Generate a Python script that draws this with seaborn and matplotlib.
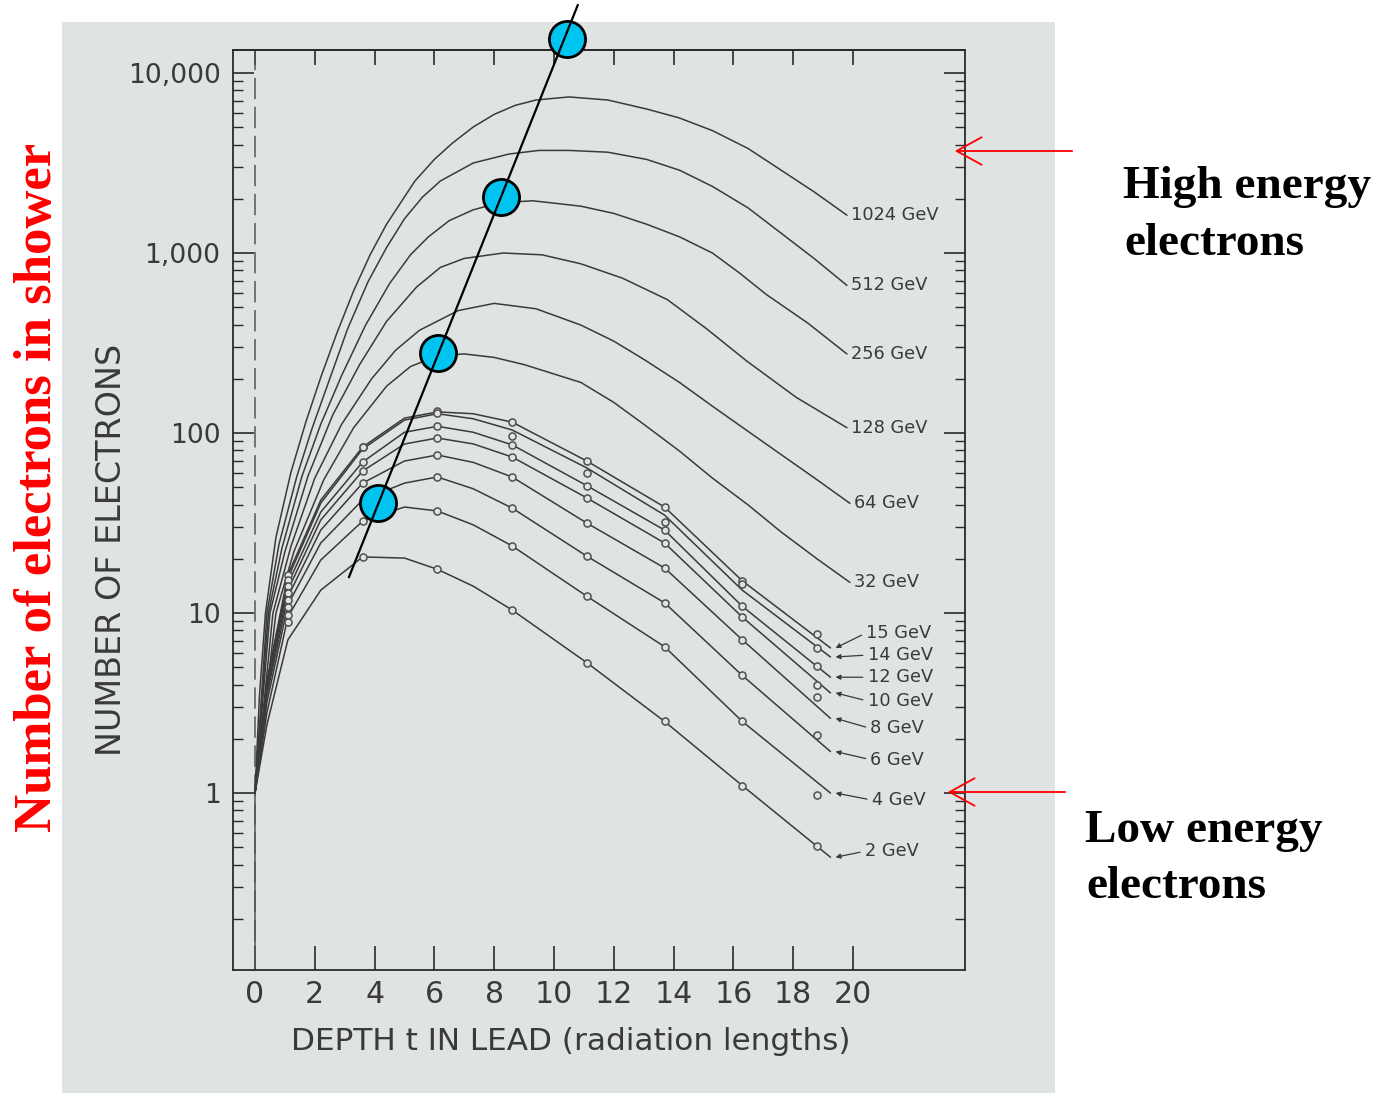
import matplotlib
matplotlib.use("Agg")
import matplotlib.pyplot as plt
import matplotlib.ticker as mticker
from matplotlib import font_manager
from matplotlib.font_manager import FontProperties
from matplotlib.patches import Rectangle, FancyArrowPatch, ArrowStyle
import numpy as np
import pandas as pd
import seaborn as sns

# ---------------- data ----------------
# high-energy shower curves: depth t (radiation lengths) and number of electrons
t_1024 = [0, 0.15, 0.35, 0.7, 1.2, 1.7, 2.2, 2.75, 3.3, 3.85, 4.4, 5.35, 6.0, 6.6, 7.3,
          8.0, 8.7, 9.4, 10.5, 11.8, 13.1, 14.2, 15.3, 16.5, 17.6, 18.7, 19.8]
n_1024 = [1, 3.5, 10, 26.3, 60.3, 115, 204, 363, 617, 977, 1445, 2512, 3311, 4074, 5012,
          5888, 6607, 7079, 7362, 7079, 6310, 5623, 4786, 3802, 2884, 2188, 1622]
t_512 = [0, 0.4, 0.8, 1.4, 1.9, 2.5, 3.1, 3.78, 4.4, 5.0, 5.6, 6.2, 7.3, 8.5, 9.5, 10.5,
         11.8, 13.1, 14.2, 15.3, 16.5, 17.6, 18.7, 19.8]
n_512 = [1, 10, 24, 57.5, 105, 200, 380, 692, 1072, 1549, 2042, 2512, 3162, 3548, 3715,
         3715, 3631, 3311, 2884, 2344, 1778, 1288, 933, 661]
t_256 = [0, 0.45, 0.9, 1.57, 2.2, 2.9, 3.7, 4.5, 5.2, 5.8, 6.5, 7.3, 8.2, 9.3, 10.9, 12.0,
         13.1, 14.2, 15.3, 16.2, 17.1, 18.5, 19.8]
n_256 = [1, 10, 22.9, 57.5, 112, 209, 398, 676, 977, 1230, 1514, 1738, 1905, 1950, 1820,
         1660, 1445, 1230, 1000, 776, 589, 407, 275]
t_128 = [0, 0.5, 1.0, 1.77, 2.6, 3.5, 4.4, 5.4, 6.2, 7.0, 8.3, 9.6, 10.9, 12.3, 13.8, 15.1,
         16.45, 18.1, 19.8]
n_128 = [1, 10, 21.9, 57.5, 126, 240, 417, 646, 832, 933, 1000, 977, 871, 724, 550, 380,
         251, 158, 107]
t_64 = [0, 0.6, 1.2, 2.0, 2.9, 3.9, 4.7, 5.5, 6.8, 8.0, 9.4, 10.9, 12.0, 13.0, 14.2, 15.3,
        16.5, 17.6, 18.8, 19.9]
n_64 = [1, 10, 23.4, 56.2, 112, 200, 288, 372, 479, 525, 490, 398, 324, 257, 191, 141,
        102, 75.9, 55, 40.7]
t_32 = [0, 0.7, 1.3, 2.3, 3.3, 4.4, 5.2, 6.1, 7.0, 8.0, 9.0, 10.9, 12.0, 13.0, 14.2, 15.3,
        16.5, 17.6, 18.8, 19.9]
n_32 = [1, 10, 21.9, 55, 107, 182, 234, 269, 275, 263, 240, 191, 148, 112, 79.4, 56.2,
        39.8, 28.2, 20, 14.8]

# low-energy shower curves (common depth grid)
t_low = [0, 0.4, 1.1, 2.2, 3.6, 5.0, 6.1, 7.3, 8.6, 11.1, 13.7, 16.3, 19.25]
n_15 = [1, 4.2, 16.3, 42.4, 83.6, 121, 131, 128, 115, 69.9, 38.8, 15.1, 6.4]
n_14 = [1, 4.1, 15.6, 40.8, 81.5, 118, 128, 120, 104, 64, 35, 13.4, 5.7]
n_12 = [1, 3.9, 14.5, 36.4, 69, 101, 109, 101, 86, 51, 28.9, 10.9, 4.4]
n_10 = [1, 3.7, 13.4, 32.9, 61.5, 86.9, 93.8, 87, 73.6, 43.6, 24.5, 9.5, 3.6]
n_8 = [1, 3.5, 12.3, 28.9, 52.7, 69.9, 75.5, 68.7, 57, 31.6, 17.8, 7.1, 2.6]
n_6 = [1, 3.2, 11.1, 24.5, 42.5, 52.7, 57, 49, 38.3, 20.7, 11.4, 4.5, 1.7]
n_4 = [1, 2.8, 9.5, 19.7, 32.4, 38.8, 36.9, 30.9, 23.6, 12.4, 6.5, 2.5, 1.0]
n_2 = [1, 2.4, 7.1, 13.4, 20.5, 20.2, 17.5, 14.1, 10.4, 5.3, 2.5, 1.1, 0.44]

# measured points on the low-energy curves
t_pts = [1.1, 3.6, 6.1, 8.6, 11.1, 13.7, 16.3, 18.8]
p_15 = [16.3, 83.6, 132, 115, 69.9, 38.8, 15.1, 7.6]
p_14 = [15.2, 83.6, 129, 96.2, 60, 32.1, 14.5, 6.4]
p_12 = [14.1, 69, 109, 86, 50.8, 28.9, 10.9, 5.1]
p_10 = [12.9, 61.5, 93.8, 73.6, 43.6, 24.5, 9.5, 4.0]
p_8 = [11.8, 52.7, 75.5, 57, 31.6, 17.8, 7.1, 3.4]
p_6 = [10.8, np.nan, 57, 38.3, 20.7, 11.4, 4.5, 2.1]
p_4 = [9.7, 32.4, 36.9, 23.6, 12.4, 6.5, 2.5, 0.97]
p_2 = [8.9, 20.5, 17.5, 10.4, 5.3, 2.5, 1.1, 0.51]

high_labels = ["1024 GeV", "512 GeV", "256 GeV", "128 GeV", "64 GeV", "32 GeV"]
low_labels = ["15 GeV", "14 GeV", "12 GeV", "10 GeV", "8 GeV", "6 GeV", "4 GeV", "2 GeV"]

# shower-maximum markers (blue circles) and the line through them
max_t = [10.43, 8.23, 6.12, 4.11]
max_n = [15460, 2046, 278, 40.8]
maxline_t = [3.14, 10.8]
maxline_n = [15.8, 23900]

x_ticks = [0, 2, 4, 6, 8, 10, 12, 14, 16, 18, 20]
x_ticklabels = ["0", "2", "4", "6", "8", "10", "12", "14", "16", "18", "20"]
y_ticks = [1, 10, 100, 1000, 10000]
y_ticklabels = ["1", "10", "100", "1,000", "10,000"]

# ---------------- styling ----------------
W, H = 1393, 1093
sns.set_style("ticks")
avail = {f.name for f in font_manager.fontManager.ttflist}
NARROW = "Liberation Sans Narrow" if "Liberation Sans Narrow" in avail else "DejaVu Sans"
narrow_ok = NARROW != "DejaVu Sans"
plt.rcParams["font.family"] = [NARROW, "DejaVu Sans"]
INK = "#3a3a3a"
BG = "#dfe3e2"
k = 1.0 if narrow_ok else 0.8

fig = plt.figure(figsize=(W / 100, H / 100), dpi=100)
fig.patch.set_facecolor("white")
fig.patches.append(Rectangle((62 / W, 0), (1055 - 62) / W, (H - 22) / H,
                             transform=fig.transFigure, facecolor=BG,
                             edgecolor="none", zorder=-10))

ax = fig.add_axes([233 / W, (H - 970) / H, (965 - 233) / W, (970 - 50) / H])
ax.set_facecolor("none")
ax.set_yscale("log")
ax.set_xlim(-0.736, 23.75)
ax.set_ylim(0.104, 13420)

# curves
high_ts = [t_1024, t_512, t_256, t_128, t_64, t_32]
high_ns = [n_1024, n_512, n_256, n_128, n_64, n_32]
low_ns = [n_15, n_14, n_12, n_10, n_8, n_6, n_4, n_2]
rows = []
for lab, t, n in zip(high_labels, high_ts, high_ns):
    rows.append(pd.DataFrame({"t": t, "N": n, "E": lab}))
for lab, n in zip(low_labels, low_ns):
    rows.append(pd.DataFrame({"t": t_low, "N": n, "E": lab}))
df_lines = pd.concat(rows, ignore_index=True)
sns.lineplot(data=df_lines, x="t", y="N", units="E", estimator=None, sort=False,
             color=INK, linewidth=1.1, ax=ax, legend=False)

# measured points
prow = []
for lab, p in zip(low_labels, [p_15, p_14, p_12, p_10, p_8, p_6, p_4, p_2]):
    prow.append(pd.DataFrame({"t": t_pts, "N": p, "E": lab}))
df_pts = pd.concat(prow, ignore_index=True).dropna()
sns.scatterplot(data=df_pts, x="t", y="N", color=BG, edgecolor="#505050",
                linewidth=1.1, s=26, ax=ax, legend=False, zorder=3)

# dashed line at t = 0
ax.axvline(0, color="#555555", lw=1.1, dashes=(14, 5), zorder=1)
ax.vlines(0, ax.get_ylim()[0], 1, color="#555555", lw=1.1, zorder=1)

# curve labels
for lab, t, n in zip(high_labels, high_ts, high_ns):
    ax.annotate(lab, xy=(t[-1], n[-1]), xytext=(3, 0), textcoords="offset points",
                ha="left", va="center", fontsize=16 * k, color=INK)
low_dx = [22, 23, 23, 23, 25, 25, 26, 21]
low_dy = [10.8, 1.4, 0, -5.8, -7.2, -5.8, -5.0, 4.3]
for lab, n, dx, dy in zip(low_labels, low_ns, low_dx, low_dy):
    ax.annotate(lab, xy=(t_low[-1] + 0.17, n[-1]), xytext=(dx, dy),
                textcoords="offset points", ha="left", va="center",
                fontsize=16 * k, color=INK,
                arrowprops=dict(arrowstyle="-|>", color=INK, lw=0.9,
                                mutation_scale=7, shrinkA=1, shrinkB=0,
                                relpos=(0, 0.5)))

# shower maxima
sns.scatterplot(x=max_t, y=max_n, s=26 ** 2, color="#00c4f0", edgecolor="black",
                linewidth=2.0, ax=ax, legend=False, zorder=6, clip_on=False)
ax.plot(maxline_t, maxline_n, color="black", lw=1.6, zorder=7, clip_on=False)

# axes styling
for sp in ax.spines.values():
    sp.set_visible(True)
    sp.set_color("#2a2a2a")
    sp.set_linewidth(1.3)
ax.set_xticks(x_ticks)
ax.set_xticklabels(x_ticklabels)
ax.set_yticks(y_ticks)
ax.set_yticklabels(y_ticklabels)
ax.yaxis.set_minor_locator(mticker.LogLocator(base=10, subs=np.arange(2, 10)))
ax.yaxis.set_minor_formatter(mticker.NullFormatter())
ax.tick_params(axis="x", which="major", direction="in", length=17, width=1.2,
               color="#2a2a2a", top=False, bottom=True, pad=7,
               labelsize=27 * k, labelcolor=INK)
ax.tick_params(axis="y", which="major", direction="in", length=15, width=1.2,
               color="#2a2a2a", left=True, right=True, pad=9,
               labelsize=24 * k, labelcolor=INK)
ax.tick_params(axis="y", which="minor", direction="in", length=7, width=1.0,
               color="#2a2a2a", left=True, right=True)
sec = ax.secondary_xaxis("top")
sec.set_xticks(x_ticks)
sec.tick_params(direction="in", length=11, width=1.2, color="#2a2a2a", labeltop=False)
sec.spines["top"].set_color("#2a2a2a")
sec.spines["top"].set_linewidth(1.3)
ax.set_xlabel("")
ax.set_ylabel("")

fig.text(571 / W, 1 - 1041 / H, "DEPTH t IN LEAD (radiation lengths)",
         ha="center", va="center", fontsize=28 * k, color=INK)
fig.text(112 / W, 1 - 550 / H, "NUMBER OF ELECTRONS", rotation=90,
         ha="center", va="center", fontsize=30 * k, color=INK)

# red / black annotations
SERIF = ["Liberation Serif", "DejaVu Serif"]
fig.text(38 / W, 1 - 487 / H, "Number of electrons in shower", rotation=90,
         ha="center", va="center", fontsize=38, fontweight="bold",
         family=SERIF, color="#ff0000")
for txt, x0, base in [("High energy", 1123, 198), ("electrons", 1124, 255),
                      ("Low energy", 1085, 842), ("electrons", 1086, 898)]:
    fig.text(x0 / W, 1 - base / H, txt, ha="left", va="baseline",
             fontsize=34, fontweight="bold", family=SERIF, color="black")
astyle = ArrowStyle("->", head_length=1.0, head_width=0.55)
for (x0, x1, yy) in [(1075, 952, 151), (1068, 945, 792)]:
    fig.add_artist(FancyArrowPatch((x0 / W, 1 - yy / H), (x1 / W, 1 - yy / H),
                                   transform=fig.transFigure, arrowstyle=astyle,
                                   mutation_scale=18, color="red", lw=1.3))

fig.savefig("out.png", dpi=100)
